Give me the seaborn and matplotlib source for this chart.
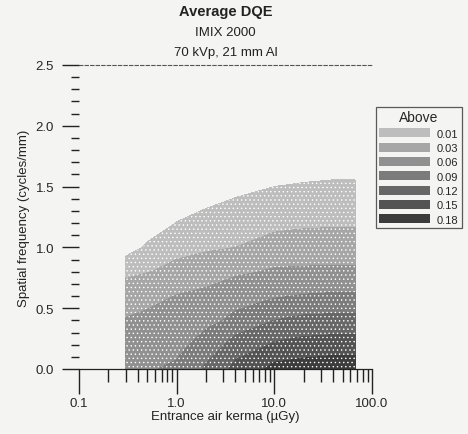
import numpy as np
import matplotlib
matplotlib.use("Agg")
import matplotlib.pyplot as plt
from matplotlib.patches import Patch
from matplotlib.ticker import FixedLocator, NullFormatter
import seaborn as sns

# Entrance air kerma (µGy) sample points and spatial frequencies (cycles/mm)
kerma = [0.3, 0.5, 1.0, 2.0, 4.0, 10.0, 20.0, 40.0, 67.0]
freq = [0.0, 0.2, 0.4, 0.6, 0.8, 1.0, 1.2, 1.4, 1.6, 1.8]

# Average DQE, one row per spatial frequency, one column per kerma value
dqe_f00 = [0.085, 0.088, 0.095, 0.125, 0.160, 0.190, 0.195, 0.200, 0.200]
dqe_f02 = [0.074, 0.077, 0.082, 0.105, 0.133, 0.154, 0.161, 0.164, 0.164]
dqe_f04 = [0.062, 0.067, 0.072, 0.081, 0.099, 0.120, 0.128, 0.130, 0.130]
dqe_f06 = [0.045, 0.051, 0.061, 0.067, 0.076, 0.087, 0.092, 0.094, 0.094]
dqe_f08 = [0.024, 0.029, 0.038, 0.047, 0.056, 0.064, 0.065, 0.066, 0.066]
dqe_f10 = [0.002, 0.013, 0.022, 0.026, 0.030, 0.040, 0.043, 0.044, 0.044]
dqe_f12 = [0.000, 0.000, 0.0105, 0.016, 0.020, 0.024, 0.026, 0.027, 0.027]
dqe_f14 = [0.000, 0.000, 0.000, 0.006, 0.0105, 0.015, 0.016, 0.017, 0.017]
dqe_f16 = [0.000, 0.000, 0.000, 0.000, 0.000, 0.005, 0.007, 0.008, 0.008]
dqe_f18 = [0.000, 0.000, 0.000, 0.000, 0.000, 0.000, 0.000, 0.000, 0.000]

levels = [0.01, 0.03, 0.06, 0.09, 0.12, 0.15, 0.18]
level_labels = ["0.01", "0.03", "0.06", "0.09", "0.12", "0.15", "0.18"]
grays = ["#bdbdbd", "#a6a6a6", "#909090", "#7b7b7b", "#676767", "#535353", "#3c3c3c"]

x_ticks = [0.1, 1.0, 10.0, 100.0]
x_tick_labels = ["0.1", "1.0", "10.0", "100.0"]
y_ticks = [0.0, 0.5, 1.0, 1.5, 2.0, 2.5]
y_tick_labels = ["0.0", "0.5", "1.0", "1.5", "2.0", "2.5"]

sns.set_theme(style="white")
plt.rcParams["font.family"] = ["Liberation Sans", "DejaVu Sans"]
# light stipple over the gray fills, like a dithered print
plt.rcParams["hatch.color"] = "#e2e2e2"
plt.rcParams["hatch.linewidth"] = 0.5

bg = "#f4f4f2"
fig = plt.figure(figsize=(4.68, 4.35), dpi=100, facecolor=bg)
ax = fig.add_axes([79 / 468, 1 - 370 / 435, (372 - 79) / 468, (370 - 66) / 435])
ax.set_facecolor(bg)

Z = np.array([dqe_f00, dqe_f02, dqe_f04, dqe_f06, dqe_f08,
              dqe_f10, dqe_f12, dqe_f14, dqe_f16, dqe_f18])
stipple = "...."
ax.contourf(kerma, freq, Z, levels=levels + [1.0], colors=grays,
            hatches=[stipple] * len(levels))

ax.set_xscale("log")
ax.set_xlim(0.1, 100)
ax.set_ylim(0, 2.5)

ax.xaxis.set_major_locator(FixedLocator(x_ticks))
ax.set_xticklabels(x_tick_labels)
minor_x = [m * d for d in (0.1, 1.0, 10.0) for m in range(2, 10)]
ax.xaxis.set_minor_locator(FixedLocator(minor_x))
ax.xaxis.set_minor_formatter(NullFormatter())

ax.set_yticks(y_ticks)
ax.set_yticklabels(y_tick_labels)
ax.yaxis.set_minor_locator(FixedLocator(np.arange(0, 2.5, 0.1)))

ax.tick_params(axis="x", which="major", direction="out", length=18, width=1.0,
               color="#222222", pad=2, labelsize=9.5, bottom=True)
ax.tick_params(axis="x", which="minor", direction="out", length=9, width=1.0,
               color="#222222", bottom=True)
ax.tick_params(axis="y", which="major", direction="out", length=12, width=1.0,
               color="#222222", pad=6, labelsize=9.5, left=True)
ax.tick_params(axis="y", which="minor", direction="out", length=6, width=1.0,
               color="#222222", left=True)

for s in ("left", "right"):
    ax.spines[s].set_visible(False)
ax.spines["bottom"].set_color("#222222")
ax.spines["bottom"].set_linewidth(0.9)
ax.spines["top"].set_color("#555555")
ax.spines["top"].set_linewidth(0.8)
ax.spines["top"].set_linestyle((0, (3, 2)))

ax.set_xlabel("Entrance air kerma (µGy)", fontsize=9.5, labelpad=1, color="#222222")
ax.set_ylabel("Spatial frequency (cycles/mm)", fontsize=9.5, labelpad=4, color="#222222")

cx = (79 + 372) / 2 / 468
fig.text(cx, 1 - 12 / 435, "Average DQE", ha="center", va="center",
         fontsize=10.5, fontweight="bold", color="#222222")
fig.text(cx, 1 - 33 / 435, "IMIX 2000", ha="center", va="center",
         fontsize=9.5, color="#222222")
fig.text(cx, 1 - 53 / 435, "70 kVp, 21 mm Al", ha="center", va="center",
         fontsize=9.5, color="#222222")

handles = [Patch(facecolor=c, edgecolor="none", hatch=stipple) for c in grays]
leg = fig.legend(handles, level_labels, title="Above", loc="upper left",
                 bbox_to_anchor=(376 / 468, 1 - 108 / 435), frameon=True,
                 fancybox=False, edgecolor="#333333", facecolor=bg,
                 fontsize=8, title_fontsize=10, handlelength=4.6,
                 handleheight=0.9, handletextpad=0.6, labelspacing=0.35,
                 borderpad=0.3, borderaxespad=0)
leg.get_frame().set_linewidth(0.9)

fig.savefig("out.png", dpi=100, facecolor=bg)
